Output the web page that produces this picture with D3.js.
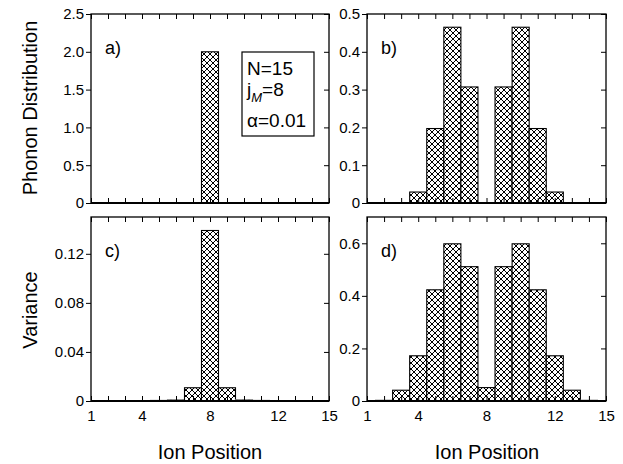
<!DOCTYPE html>
<html>
<head>
<meta charset="utf-8">
<script src="https://cdn.jsdelivr.net/npm/d3@7"></script>
<style>
  body { margin: 0; background: #fff; }
  svg { display: block; font-family: "Liberation Sans", Arial, sans-serif; }
</style>
</head>
<body>
<svg id="chart" width="623" height="464"></svg>
<script>
// ion positions along the chain
const positions = d3.range(1, 16);
const xTickLabels = [1, 4, 8, 12, 15];

// phonon distribution, panels a) and b)
const phononA = [0, 0, 0, 0, 0, 0.0005, 0.002, 2.0, 0.002, 0.0005, 0, 0, 0, 0, 0];
const phononB = [0, 0, 0.001, 0.029, 0.197, 0.465, 0.307, 0, 0.307, 0.465, 0.197, 0.029, 0.001, 0, 0];
// variance, panels c) and d)
const varianceC = [0, 0, 0, 0.0003, 0.0005, 0.001, 0.0108, 0.139, 0.0108, 0.001, 0.0005, 0.0003, 0, 0, 0];
const varianceD = [0, 0.003, 0.041, 0.172, 0.423, 0.598, 0.511, 0.051, 0.511, 0.598, 0.423, 0.172, 0.041, 0.003, 0];

const yTicksA = [0, 0.5, 1.0, 1.5, 2.0, 2.5];
const yTicksB = [0, 0.1, 0.2, 0.3, 0.4, 0.5];
const yTicksC = [0, 0.04, 0.08, 0.12];
const yTicksD = [0, 0.2, 0.4, 0.6];

const svg = d3.select("#chart");

// cross hatch fill
const defs = svg.append("defs");
const pat = defs.append("pattern")
  .attr("id", "hatch")
  .attr("patternUnits", "userSpaceOnUse")
  .attr("width", 6)
  .attr("height", 6);
pat.append("rect").attr("width", 6).attr("height", 6).attr("fill", "#fff");
pat.append("path")
  .attr("d", "M0,0L6,6M6,0L0,6M-1,1L1,-1M5,7L7,5")
  .attr("stroke", "#000")
  .attr("stroke-width", 1)
  .attr("shape-rendering", "crispEdges");

const panels = [
  { id: "a", label: "a)", data: phononA, yMax: 2.5, ticks: yTicksA, fmt: d => d === 0 ? "0" : d3.format(".1f")(d),
    x0: 91, x1: 329, y0: 14, y1: 203, xLabels: false },
  { id: "b", label: "b)", data: phononB, yMax: 0.5, ticks: yTicksB, fmt: d => d === 0 ? "0" : d3.format(".1f")(d),
    x0: 367, x1: 606, y0: 14, y1: 203, xLabels: false },
  { id: "c", label: "c)", data: varianceC, yMax: 0.15, ticks: yTicksC, fmt: d => d === 0 ? "0" : d3.format(".2f")(d),
    x0: 91, x1: 329, y0: 217, y1: 401, xLabels: true },
  { id: "d", label: "d)", data: varianceD, yMax: 0.7, ticks: yTicksD, fmt: d => d === 0 ? "0" : d3.format(".1f")(d),
    x0: 367, x1: 606, y0: 217, y1: 401, xLabels: true }
];

panels.forEach(p => {
  const x = d3.scaleLinear().domain([1, 15]).range([p.x0, p.x1]);
  const y = d3.scaleLinear().domain([0, p.yMax]).range([p.y1, p.y0]);
  const g = svg.append("g");

  defs.append("clipPath").attr("id", "clip-" + p.id)
    .append("rect")
    .attr("x", p.x0).attr("y", p.y0)
    .attr("width", p.x1 - p.x0).attr("height", p.y1 - p.y0);

  g.append("g")
    .attr("clip-path", `url(#clip-${p.id})`)
    .selectAll("rect")
    .data(positions.map((pos, i) => ({ pos, v: p.data[i] })))
    .enter()
    .append("rect")
    .attr("x", d => x(d.pos - 0.5))
    .attr("width", d => x(d.pos + 0.5) - x(d.pos - 0.5))
    .attr("y", d => y(d.v))
    .attr("height", d => y(0) - y(d.v))
    .attr("fill", "url(#hatch)")
    .attr("stroke", d => d.v > p.yMax * 0.01 ? "#000" : "#777")
    .attr("stroke-width", 1.1);

  // axes
  const bottom = d3.axisBottom(x).tickValues(positions).tickSize(-5)
    .tickFormat(d => p.xLabels && xTickLabels.includes(d) ? d : "");
  const top = d3.axisTop(x).tickValues(positions).tickSize(-5).tickFormat("");
  const left = d3.axisLeft(y).tickValues(p.ticks).tickSize(5).tickFormat(p.fmt);
  const right = d3.axisRight(y).tickValues(p.ticks).tickSize(-5).tickFormat("");

  const gb = g.append("g").attr("transform", `translate(0,${p.y1})`).call(bottom);
  const gt = g.append("g").attr("transform", `translate(0,${p.y0})`).call(top);
  const gl = g.append("g").attr("transform", `translate(${p.x0},0)`).call(left);
  const gr = g.append("g").attr("transform", `translate(${p.x1},0)`).call(right);

  [gb, gt, gl, gr].forEach(a => {
    a.select(".domain").remove();
    a.selectAll(".tick line").attr("stroke", "#000").attr("stroke-width", 1);
    a.selectAll(".tick text")
      .attr("fill", "#000")
      .style("font-size", "15px")
      .style("font-family", "'Liberation Sans', Arial, sans-serif");
  });
  gb.selectAll(".tick text").attr("dy", "1.15em").attr("y", 3);
  gl.selectAll(".tick text").attr("x", -7);

  // frame
  g.append("rect")
    .attr("x", p.x0).attr("y", p.y0)
    .attr("width", p.x1 - p.x0).attr("height", p.y1 - p.y0)
    .attr("fill", "none").attr("stroke", "#000").attr("stroke-width", 1.3);
  g.append("line")
    .attr("x1", p.x0).attr("x2", p.x1)
    .attr("y1", p.y1).attr("y2", p.y1)
    .attr("stroke", "#000").attr("stroke-width", 2);

  g.append("text")
    .attr("x", p.x0 + 14).attr("y", p.y0 + 40)
    .style("font-size", "18px")
    .text(p.label);
});

// legend box in panel a
const lg = svg.append("g");
lg.append("rect")
  .attr("x", 242).attr("y", 52).attr("width", 72).attr("height", 84)
  .attr("fill", "#fff").attr("stroke", "#000").attr("stroke-width", 1.2);
lg.append("text").attr("x", 247).attr("y", 75).style("font-size", "19px").text("N=15");
const jt = lg.append("text").attr("x", 247).attr("y", 96).style("font-size", "19px");
jt.append("tspan").text("j");
jt.append("tspan").attr("dy", 6).style("font-size", "13px").style("font-style", "italic").text("M");
jt.append("tspan").attr("dy", -6).text("=8");
lg.append("text").attr("x", 247).attr("y", 127).style("font-size", "19px").text("\u03b1=0.01");

// axis titles
svg.append("text")
  .attr("transform", "translate(37,108) rotate(-90)")
  .attr("text-anchor", "middle")
  .style("font-size", "20px")
  .text("Phonon Distribution");
svg.append("text")
  .attr("transform", "translate(37,310) rotate(-90)")
  .attr("text-anchor", "middle")
  .style("font-size", "20px")
  .text("Variance");
svg.append("text")
  .attr("x", 210).attr("y", 459)
  .attr("text-anchor", "middle")
  .style("font-size", "20px")
  .text("Ion Position");
svg.append("text")
  .attr("x", 487).attr("y", 459)
  .attr("text-anchor", "middle")
  .style("font-size", "20px")
  .text("Ion Position");
</script>
</body>
</html>
